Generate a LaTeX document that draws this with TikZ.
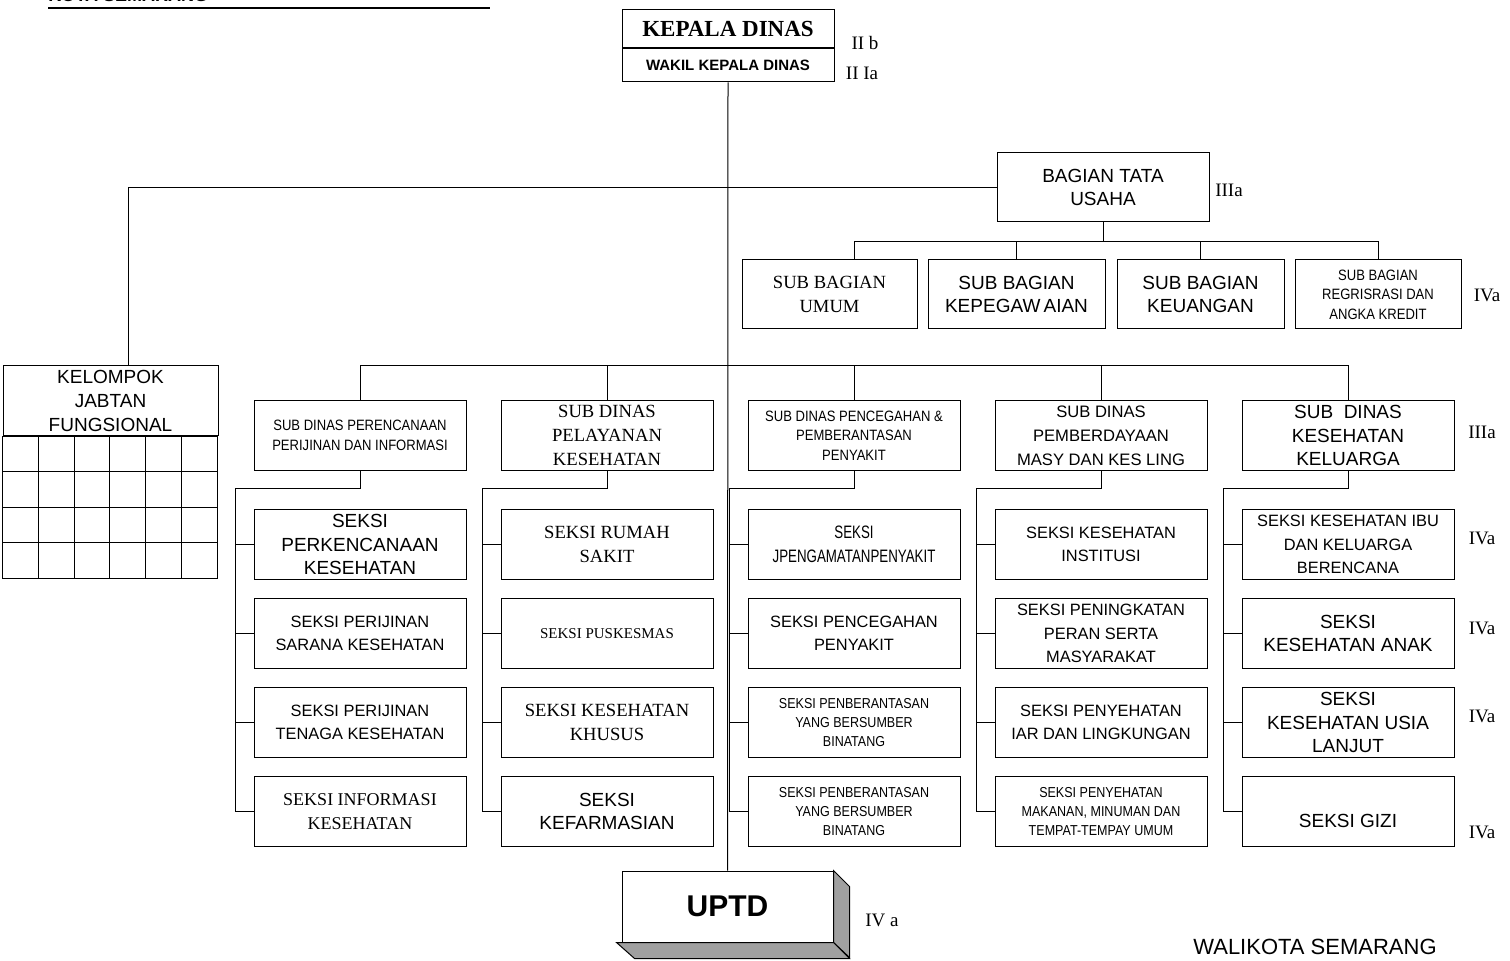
\documentclass[tikz,border=0pt]{standalone}
\usepackage{fontspec}
\setmainfont{Liberation Serif}
\setsansfont{Liberation Sans}
\newfontfamily\narrowsf[FakeStretch=0.87]{Liberation Sans}
\newfontfamily\squeezedsf[FakeStretch=0.74]{Liberation Sans}
\usetikzlibrary{positioning,calc}
\definecolor{uptdshade}{RGB}{160,160,160}
\tikzset{
    conn/.style={line width=0.5pt},
    box/.style={draw,line width=0.5pt,fill=white,align=center,inner sep=1pt,
        minimum width=106pt,minimum height=35pt},
    bagbox/.style={box,minimum height=34.5pt},
    sfbig/.style={font=\sffamily\fontsize{9.5}{11.8}\selectfont},
    sfmid/.style={font=\sffamily\fontsize{8.2}{11.6}\selectfont},
    sfnarrow/.style={font=\narrowsf\fontsize{7.5}{9.7}\selectfont},
    sfsqueezed/.style={font=\squeezedsf\fontsize{9}{12}\selectfont},
    rmbig/.style={font=\rmfamily\fontsize{9.3}{12}\selectfont},
    rmsmall/.style={font=\rmfamily\fontsize{7.5}{9}\selectfont},
    grade/.style={font=\rmfamily\fontsize{9.5}{11}\selectfont,inner sep=0pt},
}

\begin{document}
\begin{tikzpicture}[x=0.5pt,y=-0.5pt]
    \clip (0,0) rectangle (1510,961);

    % header
    \node[anchor=base west,inner sep=0pt,font=\sffamily\bfseries\fontsize{9}{10}\selectfont] (kota) at (48,1.5) {KOTA SEMARANG};
    \draw[line width=1pt] (48,8) -- (490,8);

    % kepala dinas
    \node[box,minimum height=19pt,font=\rmfamily\bfseries\fontsize{11.5}{13}\selectfont] (kadis) at (728,29) {KEPALA DINAS};
    \node[box,minimum height=16.5pt,below=0pt of kadis,font=\sffamily\bfseries\fontsize{7.5}{9}\selectfont] (wakil) {WAKIL KEPALA DINAS};
    \node[grade] (gkadis) at (865,43) {II b};
    \node[grade] (gwakil) at (862,73) {II Ia};

    % bagian tata usaha
    \node[bagbox,sfbig] (tatausaha) at (1103,187.5) {BAGIAN TATA\\USAHA};
    \node[grade] (gtu) at (1229,190) {IIIa};
    \node[bagbox,rmbig,minimum width=87.5pt] (umum) at (829.5,294.5) {SUB BAGIAN\\UMUM};
    \node[bagbox,sfbig,minimum width=88.5pt] (kepeg) at (1016.5,294.5) {SUB BAGIAN\\KEPEGAW\,AIAN};
    \node[bagbox,sfbig,minimum width=83.5pt] (keu) at (1200.5,294.5) {SUB BAGIAN\\KEUANGAN};
    \node[bagbox,sfnarrow,minimum width=83pt] (regis) at (1378,294.5) {SUB BAGIAN\\REGRISRASI DAN\\ANGKA KREDIT};
    \node[grade] (gbag) at (1487,295) {IVa};
    \coordinate (bagbus) at (1103,242);

    % kelompok jabatan fungsional
    \node[box,sfbig,minimum width=107.5pt] (kelompok) at (110.5,401) {KELOMPOK\\JABTAN\\FUNGSIONAL};
    \draw[conn] (kelompok.south west) rectangle ++(215,142);
    \foreach \i in {1,...,5}
        \draw[conn] ($(kelompok.south west)+(\i*35.83,0)$) -- ++(0,142);
    \foreach \j in {1,2,3}
        \draw[conn] ($(kelompok.south west)+(0,\j*35.5)$) -- ++(215,0);

    % sub dinas
    \node[box,sfnarrow] (sdA) at (360,435.5) {SUB DINAS PERENCANAAN\\PERIJINAN DAN INFORMASI};
    \node[box,rmbig,right=17pt of sdA] (sdB) {SUB DINAS\\PELAYANAN\\KESEHATAN};
    \node[box,sfnarrow,right=17pt of sdB] (sdC) {SUB DINAS PENCEGAHAN \&\\PEMBERANTASAN\\PENYAKIT};
    \node[box,sfmid,font=\sffamily\fontsize{8.3}{12}\selectfont,right=17pt of sdC] (sdD) {SUB DINAS\\PEMBERDAYAAN\\MASY DAN KES LING};
    \node[box,sfbig,right=17pt of sdD] (sdE) {SUB~~DINAS\\KESEHATAN\\KELUARGA};
    \node[grade] (gsd) at (1482,432) {IIIa};
    \coordinate (dinasbus) at (731,366);

    % seksi
    \node[box,sfbig,below=19pt of sdA] (sA1) {SEKSI\\PERKENCANAAN\\KESEHATAN};
    \node[box,sfmid,below=9pt of sA1] (sA2) {SEKSI PERIJINAN\\SARANA KESEHATAN};
    \node[box,sfmid,below=9pt of sA2] (sA3) {SEKSI PERIJINAN\\TENAGA KESEHATAN};
    \node[box,rmbig,font=\rmfamily\fontsize{9}{12}\selectfont,below=9pt of sA3] (sA4) {SEKSI INFORMASI\\KESEHATAN};

    \node[box,rmbig,below=19pt of sdB] (sB1) {SEKSI RUMAH\\SAKIT};
    \node[box,rmsmall,below=9pt of sB1] (sB2) {SEKSI PUSKESMAS};
    \node[box,rmbig,below=9pt of sB2] (sB3) {SEKSI KESEHATAN\\KHUSUS};
    \node[box,sfbig,below=9pt of sB3] (sB4) {SEKSI\\KEFARMASIAN};

    \node[box,sfsqueezed,below=19pt of sdC] (sC1) {SEKSI\\JPENGAMATANPENYAKIT};
    \node[box,sfmid,below=9pt of sC1] (sC2) {SEKSI PENCEGAHAN\\PENYAKIT};
    \node[box,sfnarrow,font=\narrowsf\fontsize{7.2}{9.6}\selectfont,below=9pt of sC2] (sC3) {SEKSI PENBERANTASAN\\YANG BERSUMBER\\BINATANG};
    \node[box,sfnarrow,font=\narrowsf\fontsize{7.2}{9.6}\selectfont,below=9pt of sC3] (sC4) {SEKSI PENBERANTASAN\\YANG BERSUMBER\\BINATANG};

    \node[box,sfmid,below=19pt of sdD] (sD1) {SEKSI KESEHATAN\\INSTITUSI};
    \node[box,sfmid,below=9pt of sD1] (sD2) {SEKSI PENINGKATAN\\PERAN SERTA\\MASYARAKAT};
    \node[box,sfmid,below=9pt of sD2] (sD3) {SEKSI PENYEHATAN\\IAR DAN LINGKUNGAN};
    \node[box,sfnarrow,font=\narrowsf\fontsize{7.2}{9.6}\selectfont,below=9pt of sD3] (sD4) {SEKSI PENYEHATAN\\MAKANAN, MINUMAN DAN\\TEMPAT-TEMPAY UMUM};

    \node[box,sfmid,below=19pt of sdE] (sE1) {SEKSI KESEHATAN IBU\\DAN KELUARGA\\BERENCANA};
    \node[box,sfbig,below=9pt of sE1] (sE2) {SEKSI\\KESEHATAN ANAK};
    \node[box,sfbig,below=9pt of sE2] (sE3) {SEKSI\\KESEHATAN USIA\\LANJUT};
    \node[box,sfbig,below=9pt of sE3] (sE4) {\rule{0pt}{16pt}SEKSI GIZI};
    \node[grade] (gs1) at (1482,538) {IVa};
    \node[grade] (gs2) at (1482,628) {IVa};
    \node[grade] (gs3) at (1482,716) {IVa};
    \node[grade] (gs4) at (1482,832) {IVa};

    % uptd
    \node[box,minimum width=105.5pt,minimum height=35.5pt,font=\sffamily\bfseries\fontsize{15}{18}\selectfont] (uptd) at (727.5,906.5) {UPTD};
    \draw[conn,fill=uptdshade] (uptd.north east) -- ++(16,16) -- ++(0,71) -- (uptd.south east) -- cycle;
    \draw[conn,fill=uptdshade] ($(uptd.south west)+(-5,0)$) -- (uptd.south east) -- ++(16,16) -- ($(uptd.south west)+(13,16)$) -- cycle;
    \node[grade] (guptd) at (882,920) {IV a};

    \node[font=\sffamily\fontsize{11}{13}\selectfont] (walikota) at (1315,947) {WALIKOTA SEMARANG};

    % connections
    \draw[conn] (wakil.south) -- (uptd.north);
    \draw[conn] (tatausaha.west) -| ($(kelompok.north)+(17.5,0)$);
    \draw[conn] (tatausaha.south) -- (bagbus);
    \draw[conn] ($(umum.north)+(24.5,0)$) |- (regis.north |- bagbus) -- (regis.north);
    \draw[conn] (kepeg.north) -- (kepeg.north |- bagbus);
    \draw[conn] (keu.north) -- (keu.north |- bagbus);
    \draw[conn] (sdA.north) |- (sdE.north |- dinasbus) -- (sdE.north);
    \foreach \c in {B,C,D}
        \draw[conn] (sd\c.north) -- (sd\c.north |- dinasbus);
    \foreach \c in {A,B,C,D,E}{
        \draw[conn] (sd\c.south) -- ++(0,18) -| ($(s\c4.west)+(-18,0)$) -- (s\c4.west);
        \foreach \r in {1,2,3}
            \draw[conn] (s\c\r.west) -- ++(-18,0);
    }
\end{tikzpicture}
\end{document}
